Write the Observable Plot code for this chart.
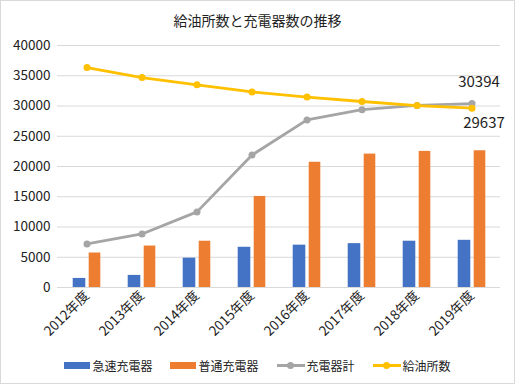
<!DOCTYPE html>
<html>
<head>
<meta charset="utf-8">
<script src="https://cdn.jsdelivr.net/npm/d3@7"></script>
<script src="https://cdn.jsdelivr.net/npm/@observablehq/plot@0.6"></script>
<style>
  html, body { margin: 0; padding: 0; background: #fff; }
  #wrap {
    width: 515px; height: 384px; box-sizing: border-box;
    border: 1px solid #d9d9d9; background: #fff; overflow: hidden;
    font-family: "Noto Sans CJK JP", "Noto Sans", sans-serif; color: #222;
  }
  #title { position: relative; z-index: 1; height: 25px; line-height: 38px; text-align: center; font-size: 14px; color: #222; }
  #chart svg { display: block; }
  #legend { display: flex; justify-content: center; align-items: center; gap: 18px; padding-top: 16px; font-size: 12px; color: #222; }
  .item { display: flex; align-items: center; gap: 2px; }
  .sw { width: 26px; height: 7px; }
  .ln { position: relative; width: 28px; height: 10px; }
  .ln .bar { position: absolute; left: 0; right: 0; top: 3.5px; height: 3px; }
  .ln .pt { position: absolute; left: 10.5px; top: 1.5px; width: 7px; height: 7px; border-radius: 50%; }
</style>
</head>
<body>
<div id="wrap">
  <div id="title">給油所数と充電器数の推移</div>
  <div id="chart"></div>
  <div id="legend"></div>
</div>
<script>
const years = ["2012年度", "2013年度", "2014年度", "2015年度", "2016年度", "2017年度", "2018年度", "2019年度"];
const quickChargers = [1500, 2000, 4850, 6650, 7000, 7250, 7650, 7800];
const normalChargers = [5700, 6850, 7650, 15050, 20700, 22050, 22500, 22600];
const chargerTotal = [7200, 8850, 12500, 21900, 27700, 29400, 30100, 30394];
const gasStations = [36349, 34706, 33510, 32333, 31467, 30747, 30070, 29637];
const yTicks = [0, 5000, 10000, 15000, 20000, 25000, 30000, 35000, 40000];
const seriesNames = ["急速充電器", "普通充電器", "充電器計", "給油所数"];
const colors = ["#4472C4", "#ED7D31", "#A5A5A5", "#FFC000"];

const data = years.map((year, i) => ({
  year,
  quick: quickChargers[i],
  normal: normalChargers[i],
  total: chargerTotal[i],
  gas: gasStations[i]
}));
const last = [data[data.length - 1]];

const chart = Plot.plot({
  width: 513,
  height: 315,
  marginTop: 19,
  marginBottom: 54,
  marginLeft: 56,
  marginRight: 14,
  style: { fontFamily: "'Noto Sans CJK JP', 'Noto Sans', sans-serif", fontSize: "13.5px", color: "#222", background: "transparent" },
  x: { domain: years, padding: 0, tickSize: 0, tickPadding: 6, tickRotate: -45, label: null },
  y: { domain: [0, 40000], ticks: yTicks, tickSize: 0, tickPadding: 7, label: null, tickFormat: d => String(d) },
  marks: [
    Plot.ruleY(yTicks, { stroke: "#d9d9d9", strokeWidth: 1 }),
    Plot.barY(data, { x: "year", y: "quick", fill: colors[0], insetLeft: 13.7, insetRight: 28.7 }),
    Plot.barY(data, { x: "year", y: "normal", fill: colors[1], insetLeft: 29.7, insetRight: 13.7 }),
    Plot.line(data, { x: "year", y: "total", stroke: colors[2], strokeWidth: 2.8 }),
    Plot.dot(data, { x: "year", y: "total", fill: colors[2], r: 3.5 }),
    Plot.line(data, { x: "year", y: "gas", stroke: colors[3], strokeWidth: 2.8 }),
    Plot.dot(data, { x: "year", y: "gas", fill: colors[3], r: 3.5 }),
    Plot.text(last, { x: "year", y: "total", text: d => String(d.total), dy: -21, dx: 7, fontSize: 15, fill: "#222" }),
    Plot.text(last, { x: "year", y: "gas", text: d => String(d.gas), dy: 15, dx: 12, fontSize: 15, fill: "#222" })
  ]
});
document.getElementById("chart").appendChild(chart);

const legend = document.getElementById("legend");
seriesNames.forEach((name, i) => {
  const item = document.createElement("div");
  item.className = "item";
  if (i < 2) {
    item.innerHTML = `<span class="sw" style="background:${colors[i]}"></span><span>${name}</span>`;
  } else {
    item.innerHTML = `<span class="ln"><span class="bar" style="background:${colors[i]}"></span><span class="pt" style="background:${colors[i]}"></span></span><span>${name}</span>`;
  }
  legend.appendChild(item);
});
</script>
</body>
</html>
